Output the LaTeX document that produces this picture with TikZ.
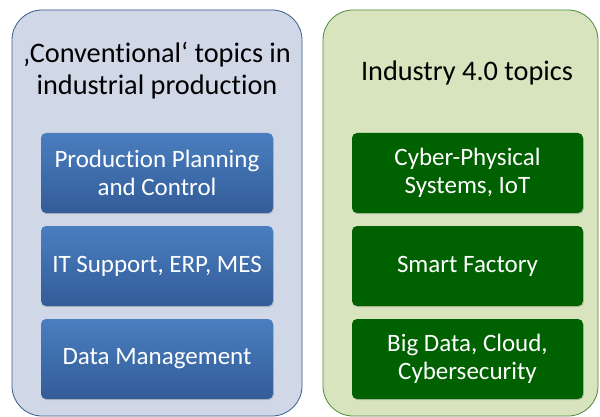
\documentclass[tikz,border=0pt]{standalone}
\usepackage{fontspec}
\setmainfont{Carlito}[Ligatures={NoCommon}]
\usetikzlibrary{shadows}
\definecolor{lpfill}{HTML}{D0D8E8}
\definecolor{lpdraw}{HTML}{385D8A}
\definecolor{rpfill}{HTML}{D7E4BD}
\definecolor{rpdraw}{HTML}{4F8A3C}
\definecolor{btop}{HTML}{4A7EC0}
\definecolor{bbot}{HTML}{335C98}
\definecolor{gbox}{HTML}{006100}
\tikzset{
  panel/.style={rounded corners=30pt, line width=0.8pt},
  bluebox/.style={rounded corners=5pt, minimum width=232pt, minimum height=80pt,
    top color=btop, bottom color=bbot, draw=none, text=white, align=center,
    font=\fontsize{25}{28}\selectfont, drop shadow={shadow xshift=0.8pt, shadow yshift=-1.2pt, opacity=0.35}},
  greenbox/.style={rounded corners=5pt, minimum width=231pt, minimum height=80pt,
    fill=gbox, draw=none, text=white, align=center,
    font=\fontsize{25}{28}\selectfont, drop shadow={shadow xshift=0.8pt, shadow yshift=-1.2pt, opacity=0.35}},
  title/.style={align=center, text=black, font=\fontsize{28.3}{32}\selectfont}
}
\begin{document}
\begin{tikzpicture}[x=1pt,y=-1pt]
\useasboundingbox (0,0) rectangle (600,417);
\fill[white] (0,0) rectangle (600,417);
\draw[panel, fill=lpfill, draw=lpdraw] (12,10) rectangle (302,416);
\draw[panel, fill=rpfill, draw=rpdraw] (323,10) rectangle (598,416);
\node[title] (lt) at (157,71) {‚Conventional‘ topics in\\industrial production};
\node[title] (rt) at (467,73) {Industry 4.0 topics};
\node[bluebox] (b1) at (157,173) {Production Planning\\and Control};
\node[bluebox] (b2) at (157,266) {IT Support, ERP, MES};
\node[bluebox] (b3) at (157,359) {Data Management};
\node[greenbox] (g1) at (467.5,173) {Cyber-Physical\\Systems, IoT};
\node[greenbox] (g2) at (467.5,266) {Smart Factory};
\node[greenbox] (g3) at (467.5,359) {Big Data, Cloud,\\Cybersecurity};
\end{tikzpicture}
\end{document}
